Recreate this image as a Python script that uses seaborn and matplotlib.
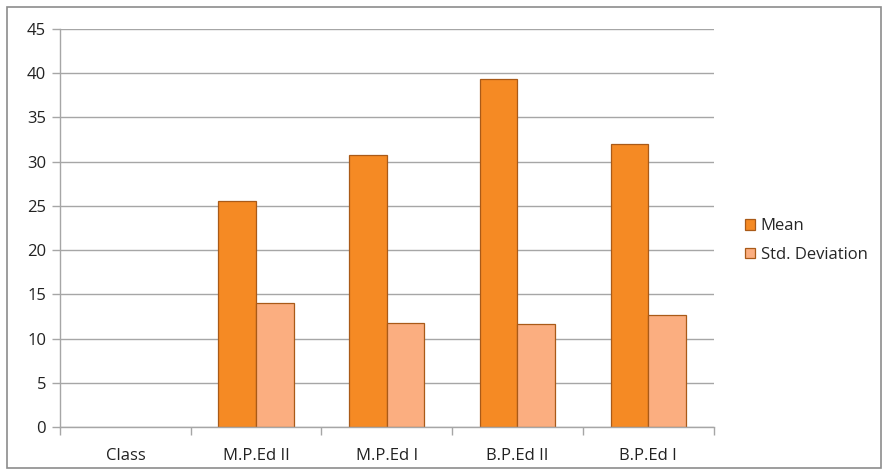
import matplotlib
matplotlib.use("Agg")
import matplotlib.pyplot as plt
import seaborn as sns
import pandas as pd
from matplotlib.patches import Rectangle, Patch

categories = ["Class", "M.P.Ed II", "M.P.Ed I", "B.P.Ed II", "B.P.Ed I"]
mean_vals = [0, 25.6, 30.8, 39.4, 32.0]
std_vals = [0, 14.0, 11.7, 11.6, 12.7]
series = ["Mean", "Std. Deviation"]
yticks = [0, 5, 10, 15, 20, 25, 30, 35, 40, 45]

df = pd.DataFrame({
    "category": categories * 2,
    "value": mean_vals + std_vals,
    "series": [series[0]] * len(categories) + [series[1]] * len(categories),
})

sns.set_theme(style="white")
plt.rcParams["font.family"] = ["Open Sans", "DejaVu Sans"]

fig = plt.figure(figsize=(8.88, 4.75), dpi=100)
ax = fig.add_axes([0.0676, 0.1011, 0.7359, 0.8379])

palette = {"Mean": "#F58A24", "Std. Deviation": "#FBAE80"}
edge = "#A95A18"
sns.barplot(data=df, x="category", y="value", hue="series", order=categories,
            hue_order=series, palette=palette, width=0.575, saturation=1,
            edgecolor=edge, linewidth=0.9, ax=ax, legend=False)

# hide zero-height bars (no visible outline in the reference)
for p in ax.patches:
    if hasattr(p, "get_height") and p.get_height() == 0:
        p.set_visible(False)

ax.set_ylim(0, 45)
ax.set_yticks(yticks)
ax.set_xlim(-0.5, len(categories) - 0.5)
ax.yaxis.grid(True, color="#A6A6A6", linewidth=1)
ax.set_axisbelow(True)
ax.set_xlabel("")
ax.set_ylabel("")

for s in ["top", "right"]:
    ax.spines[s].set_visible(False)
for s in ["left", "bottom"]:
    ax.spines[s].set_color("#A6A6A6")
    ax.spines[s].set_linewidth(1)

ax.tick_params(axis="y", which="major", left=True, length=6, width=1,
               color="#A6A6A6", labelsize=12, labelcolor="#222222", pad=4)
ax.tick_params(axis="x", which="major", bottom=False, labelsize=12,
               labelcolor="#222222", pad=9)
ax.set_xticks(range(len(categories)))
ax.set_xticklabels(categories)
ax.set_xticks([i - 0.5 for i in range(len(categories) + 1)], minor=True)
ax.tick_params(axis="x", which="minor", bottom=True, length=6, width=1,
               color="#A6A6A6")

handles = [Patch(facecolor=palette[s], edgecolor=edge, linewidth=0.9) for s in series]
leg = ax.legend(handles, series, loc="center left", bbox_to_anchor=(1.025, 0.468),
                frameon=False, fontsize=12, handlelength=0.6, handleheight=0.6,
                handletextpad=0.35, labelspacing=0.75)

fig.patches.append(Rectangle((0.008, 0.015), 0.984, 0.97, transform=fig.transFigure,
                             fill=False, edgecolor="#8C8C8C", linewidth=1.2))

fig.savefig("out.png", dpi=100, facecolor="white")
